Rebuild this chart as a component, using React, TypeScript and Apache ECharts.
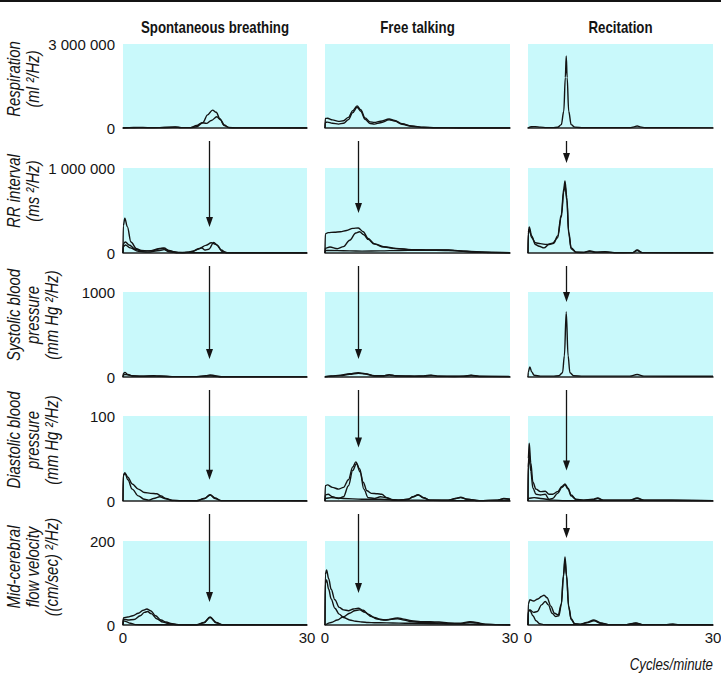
import React, { useEffect, useRef } from 'react';
import * as echarts from 'echarts';

const FONT = "'Liberation Sans', Arial, sans-serif";
const NARROW = 0.83; // horizontal squeeze to imitate the condensed face
const CYAN = '#c9f9fb';
const INK = '#141414';

const COLUMN_TITLES = ['Spontaneous breathing', 'Free talking', 'Recitation'];
const ROW_LABELS = [
  ['Respiration', '(ml \u00b2/Hz)'],
  ['RR interval', '(ms \u00b2/Hz)'],
  ['Systolic blood', 'pressure', '(mm Hg \u00b2/Hz)'],
  ['Diastolic blood', 'pressure', '(mm Hg \u00b2/Hz)'],
  ['Mid-cerebral', 'flow velocity', '((cm/sec) \u00b2/Hz)'],
];
const Y_MAX = [3000000, 1000000, 1000, 100, 200];
const X_MIN = 0;
const X_MAX = 30;
const X_AXIS_NAME = 'Cycles/minute';

// arrows: frequency per column, tip value per row (rows 2..5)
const ARROW_FREQ = [14.1, 5.3, 6.2];
const ARROW_TIPS = [
  [306000, 212, 25, 55],
  [470000, 212, 63, 76],
  [1060000, 882, 36, 207],
];

// ---------- Respiration ----------
const respSpontA = [[0,0],[0.05,8000],[1,12000],[2.5,20000],[4,12000],[6,15000],[7.5,25000],[8.5,35000],[9.5,15000],[11,12000],[12,45000],[13,190000],[13.8,470000],[14.6,640000],[15.2,560000],[15.8,330000],[16.5,90000],[17.3,15000],[18.5,3000],[30,2000]];
const respSpontB = [[0,0],[0.05,5000],[1,8000],[2.5,15000],[4,10000],[6,12000],[7.5,20000],[8.5,30000],[9.5,12000],[11,15000],[12,90000],[12.9,190000],[13.6,165000],[14.4,270000],[15.3,400000],[15.9,290000],[16.5,110000],[17.2,20000],[18.5,3000],[30,2000]];
const respTalkA = [[0,0],[0.05,340000],[0.4,350000],[1.2,290000],[2.2,235000],[3,260000],[3.8,380000],[4.5,620000],[5.2,790000],[5.8,650000],[6.5,360000],[7.3,220000],[8,200000],[9,240000],[10.4,320000],[11.3,270000],[12.5,150000],[14,70000],[16,25000],[18,8000],[22,2000],[30,1000]];
const respTalkB = [[0,0],[0.05,200000],[0.4,210000],[1.2,170000],[2.2,140000],[3,170000],[3.8,300000],[4.5,550000],[5.2,740000],[5.8,600000],[6.5,310000],[7.3,160000],[8,140000],[9,190000],[10.4,290000],[11.3,250000],[12.5,135000],[14,60000],[16,20000],[18,6000],[22,1500],[30,1000]];
const respRecite = [[0,0],[0.05,20000],[0.6,45000],[1.2,50000],[2,30000],[3,15000],[4,12000],[4.8,25000],[5.4,120000],[5.8,600000],[6.05,1800000],[6.2,2570000],[6.35,1800000],[6.6,600000],[7,120000],[7.6,30000],[9,10000],[16.5,8000],[17.2,40000],[17.7,70000],[18.2,40000],[19,8000],[30,3000]];

// ---------- RR interval ----------
const rrSpontA = [[0,0],[0.05,320000],[0.3,410000],[0.7,310000],[1.3,130000],[2.2,50000],[3,30000],[4,25000],[5,30000],[6,55000],[6.7,60000],[7.5,30000],[8.5,10000],[10,5000],[11.3,15000],[12.2,45000],[12.8,60000],[13.4,35000],[14,45000],[14.8,125000],[15.4,90000],[16.2,15000],[17,3000],[30,1000]];
const rrSpontB = [[0,0],[0.05,110000],[0.4,130000],[1,95000],[2,45000],[3,25000],[4.5,25000],[5.5,45000],[6.5,55000],[7.5,25000],[9,5000],[10.5,8000],[11.5,25000],[12.5,55000],[13.5,90000],[14.4,120000],[15.2,100000],[16,35000],[16.8,5000],[30,1000]];
const rrSpontC = [[0,0],[0.05,75000],[0.4,95000],[1.2,60000],[2.5,20000],[4,10000],[6,30000],[6.7,40000],[7.5,15000],[9,3000],[30,1000]];
const rrTalkA = [[0,0],[0.05,225000],[0.5,240000],[1.5,245000],[2.5,250000],[3.5,265000],[4.5,290000],[5.4,295000],[6.2,250000],[7,170000],[8,110000],[9.5,75000],[11.5,55000],[14,40000],[17,35000],[20,35000],[23,20000],[26,8000],[30,3000]];
const rrTalkB = [[0,0],[0.05,55000],[0.8,70000],[2,50000],[3,75000],[4,150000],[5,235000],[5.6,250000],[6.3,215000],[7,160000],[8,105000],[9.5,70000],[11.5,52000],[14,40000],[17,34000],[20,32000],[23,18000],[26,7000],[30,2000]];
const rrTalkC = [[0,0],[0.05,30000],[2,28000],[4,25000],[6,22000],[9,25000],[12,30000],[15,32000],[18,32000],[21,28000],[24,12000],[27,4000],[30,1500]];
const rrReciteA = [[0,0],[0.05,240000],[0.2,306000],[0.6,200000],[1.2,100000],[1.8,80000],[2.6,60000],[3.4,100000],[4.2,115000],[4.8,200000],[5.4,450000],[5.8,760000],[6.0,847000],[6.3,650000],[6.6,250000],[7,60000],[7.8,10000],[9,8000],[10,25000],[11,10000],[12.5,15000],[14,5000],[17,5000],[17.7,35000],[18.5,5000],[30,1000]];
const rrReciteB = [[0,0],[0.05,220000],[0.2,280000],[0.6,180000],[1.2,120000],[2,110000],[3,100000],[4,115000],[4.8,180000],[5.4,420000],[5.8,720000],[6.0,800000],[6.3,620000],[6.6,230000],[7,50000],[7.8,8000],[9,5000],[10,20000],[11,8000],[12.5,12000],[14,3000],[17,4000],[17.7,30000],[18.5,4000],[30,1000]];

// ---------- Systolic blood pressure ----------
const sbpSpontA = [[0,0],[0.05,40],[0.3,55],[0.8,30],[1.5,15],[3,10],[5,15],[6,12],[8,5],[12,5],[13.5,15],[14.2,25],[15,15],[16,3],[30,2]];
const sbpSpontB = [[0,0],[0.05,25],[0.5,30],[1.5,12],[3,8],[5,12],[6,8],[8,4],[12,4],[13.5,10],[14.2,15],[15,8],[16,2],[30,2]];
const sbpTalkA = [[0,5],[1,12],[2.5,20],[4,40],[5.4,52],[6.5,40],[8,15],[9.5,15],[10.4,28],[11.5,15],[13,12],[14.5,10],[16,12],[17.2,22],[18.5,10],[21,8],[22.5,10],[23.7,20],[25,8],[30,5]];
const sbpTalkB = [[0,3],[1,10],[2.5,16],[4,32],[5.4,45],[6.5,35],[8,12],[9.5,12],[10.4,22],[11.5,12],[13,10],[14.5,8],[16,10],[17.2,18],[18.5,8],[21,6],[22.5,8],[23.7,17],[25,6],[30,4]];
const sbpRecite = [[0,0],[0.05,60],[0.3,118],[0.6,60],[1,20],[2,10],[4,10],[5,15],[5.6,50],[5.9,250],[6.2,765],[6.5,250],[6.8,50],[7.4,15],[9,10],[16.5,10],[17.7,30],[18.8,10],[30,8]];

// ---------- Diastolic blood pressure ----------
const dbpSpontA = [[0,0],[0.05,30],[0.3,33],[0.8,28],[1.5,20],[2.5,14],[3.5,10],[4.5,9],[5.5,8.5],[6.2,6],[7,3],[8,1],[9.5,0.3],[12,0.3],[13.3,3],[14.2,7.5],[15,3.5],[16,0.5],[30,0.3]];
const dbpSpontB = [[0,0],[0.05,30],[0.3,33],[0.8,25],[1.5,14],[2.5,6],[3.5,2],[4.2,1],[5,3],[6,5],[7,2.5],[8,0.5],[12,0.3],[13.3,3],[14.2,7],[15,3],[16,0.5],[30,0.3]];
const dbpTalkA = [[0,0],[0.05,18],[0.4,19],[1.2,16],[2.2,14],[3,16],[3.8,25],[4.5,40],[5.0,46],[5.6,38],[6.2,22],[6.8,12],[7.5,9],[8.5,8.5],[9.2,8],[10,4],[11,1.5],[12,1],[13.5,2],[14.3,5],[15.1,7.5],[16,4],[17,1],[20,1],[21.2,3],[22,4.5],[23,2],[25,0.5],[28,1],[29,3],[30,2]];
const dbpTalkB = [[0,0],[0.05,7],[0.5,8],[1.2,5],[2.2,3],[3,5],[3.8,18],[4.5,36],[5.1,44],[5.7,34],[6.3,14],[7,4],[8,3],[9,5],[9.8,4],[11,1],[12,1],[13.5,2],[14.3,5],[15.1,7],[16,3.5],[17,1],[20,1],[21.2,3],[22,4],[23,2],[25,0.5],[28,1],[29,2.5],[30,2]];
const dbpTalkC = [[0,0],[0.05,3],[1,4],[3,3],[6,2],[9,2],[12,1],[15,1],[20,0.5],[30,0.3]];
const dbpReciteA = [[0,0],[0.05,50],[0.2,68],[0.45,45],[0.8,22],[1.3,14],[2,11],[2.8,11.5],[3.4,8],[4,8],[4.8,11],[5.5,17],[6.0,20],[6.5,15],[7,7],[7.8,2],[9,1],[10.5,2],[11.3,3.5],[12.2,1],[16.5,1],[17.7,3.5],[18.8,1],[30,0.5]];
const dbpReciteB = [[0,0],[0.05,40],[0.2,55],[0.45,35],[0.8,15],[1.3,8],[2,7],[2.8,8],[3.4,2],[4,3],[4.8,9],[5.5,16],[6.0,19],[6.5,14],[7,6],[7.8,1.5],[9,1],[10.5,1.5],[11.3,3],[12.2,1],[16.5,1],[17.7,3],[18.8,1],[30,0.5]];
const dbpReciteC = [[0,0],[0.05,3],[1,4],[2,3],[4,1],[6,0.5],[30,0.3]];

// ---------- Mid-cerebral flow velocity ----------
const mcaSpontA = [[0,0],[0.05,17],[0.8,19],[1.6,22],[2.5,28],[3.3,35],[3.9,38],[4.5,34],[5.3,22],[6.2,12],[7,7],[8,3],[9,1],[12,0.5],[13.2,6],[14.2,19],[15.2,6],[16.2,0.5],[30,0.3]];
const mcaSpontB = [[0,0],[0.05,14],[0.8,12],[1.8,13],[2.8,22],[3.5,30],[4,32],[4.6,27],[5.5,15],[6.5,7],[7.5,3],[9,0.5],[12,0.5],[13.2,5],[14.2,18],[15.2,5],[16.2,0.5],[30,0.3]];
const mcaSpontC = [[0,0],[0.05,10],[0.5,8],[1.2,4],[2,1],[4,0.5],[30,0.3]];
const mcaTalkA = [[0,0],[0.05,120],[0.25,131],[0.6,110],[1,85],[1.6,60],[2.3,42],[3,36],[3.8,34],[4.6,38],[5.4,40],[6.2,35],[7,26],[8,18],[9,13],[10,12],[11,15],[11.8,17],[12.8,14],[14,10],[15.5,8],[17,8],[18.5,7],[20,5],[22,4],[23.5,8],[24.5,6],[26,2],[28,1],[30,0.5]];
const mcaTalkB = [[0,0],[0.05,100],[0.25,107],[0.6,85],[1,62],[1.6,40],[2.3,26],[3,18],[4,12],[5,9],[6,7],[7,6],[8,5.5],[10,5],[12,4.5],[14,4],[18,3],[22,2],[26,1],[30,0.5]];
const mcaTalkC = [[0,0],[1,6],[2,12],[3,20],[4,28],[4.8,34],[5.6,36],[6.5,30],[7.5,20],[8.5,14],[9.5,12],[10.5,13],[11.8,15],[12.8,12],[14,8],[15.5,6],[17,6],[18.5,5],[20,3.5],[22,3],[23.5,6],[24.5,4.5],[26,1.5],[30,0.3]];
const mcaReciteA = [[0,0],[0.05,50],[0.3,60],[0.9,57],[1.6,62],[2.2,68],[2.6,71],[3.1,65],[3.7,45],[4.3,28],[4.9,24],[5.4,50],[5.75,120],[6.0,162],[6.25,120],[6.6,45],[7,15],[7.6,3],[8.5,2],[9.5,6],[10.7,12],[11.8,5],[13,1],[16,1],[17.5,5],[18.5,1],[22.5,1],[23.5,2.5],[24.5,0.5],[30,0.3]];
const mcaReciteB = [[0,0],[0.05,32],[0.3,36],[0.9,30],[1.5,32],[2.2,48],[2.8,56],[3.3,48],[3.9,28],[4.5,20],[5,22],[5.4,48],[5.75,115],[6.0,155],[6.25,115],[6.6,42],[7,13],[7.6,2],[8.5,1.5],[9.5,5],[10.7,10],[11.8,4],[13,1],[16,1],[17.5,4],[18.5,1],[30,0.3]];
const mcaReciteC = [[0,0],[0.05,32],[0.3,35],[0.8,22],[1.3,10],[1.9,3],[2.5,1],[4,0.5],[30,0.3]];

const PANELS = [
  [[respSpontA, respSpontB], [respTalkA, respTalkB], [respRecite]],
  [[rrSpontA, rrSpontB, rrSpontC], [rrTalkA, rrTalkB, rrTalkC], [rrReciteA, rrReciteB]],
  [[sbpSpontA, sbpSpontB], [sbpTalkA, sbpTalkB], [sbpRecite]],
  [[dbpSpontA, dbpSpontB], [dbpTalkA, dbpTalkB, dbpTalkC], [dbpReciteA, dbpReciteB, dbpReciteC]],
  [[mcaSpontA, mcaSpontB, mcaSpontC], [mcaTalkA, mcaTalkB, mcaTalkC], [mcaReciteA, mcaReciteB, mcaReciteC]],
];

// layout (pixels)
const GRID_LEFT = [123, 325, 528];
const GRID_W = [184, 185, 185];
const GRID_TOP = [44, 168, 292, 416, 541];
const GRID_H = [84, 85, 85, 85, 84];
const LABEL_CENTER = [79, 191, 315, 440, 567];
const LABEL_X = [14, 33, 52];

const fmtY = (v: number) =>
  v >= 10000 ? String(v).replace(/\B(?=(\d{3})+(?!\d))/g, ' ') : String(v);

export default function App() {
  const ref = useRef<HTMLDivElement>(null);
  useEffect(() => {
    if (!ref.current) return;
    const chart = echarts.init(ref.current, undefined, { renderer: 'svg' });
    const grids: any[] = [];
    const xAxes: any[] = [];
    const yAxes: any[] = [];
    const series: any[] = [];
    PANELS.forEach((row, r) => {
      row.forEach((curves, c) => {
        const p = r * 3 + c;
        grids.push({
          left: GRID_LEFT[c], top: GRID_TOP[r], width: GRID_W[c], height: GRID_H[r],
          show: true, backgroundColor: CYAN, borderWidth: 0, containLabel: false, outerBoundsMode: 'none',
        });
        xAxes.push({
          type: 'value', gridIndex: p, min: X_MIN, max: X_MAX, interval: X_MAX - X_MIN,
          axisLine: { show: true, onZero: false, lineStyle: { color: '#222', width: 1.5 } },
          axisTick: { show: false }, splitLine: { show: false },
          axisLabel: { show: r === 4, color: INK, fontSize: 15, fontFamily: FONT, margin: 5 },
        });
        yAxes.push({
          type: 'value', gridIndex: p, min: 0, max: Y_MAX[r], interval: Y_MAX[r],
          axisLine: { show: false }, axisTick: { show: false }, splitLine: { show: false },
          axisLabel: { show: c === 0, color: INK, fontSize: 15, fontFamily: FONT, margin: 8, formatter: fmtY },
        });
        curves.forEach((d) => {
          series.push({
            type: 'line', xAxisIndex: p, yAxisIndex: p, data: d,
            showSymbol: false, symbol: 'none', smooth: 0.35, smoothMonotone: 'x',
            lineStyle: { color: INK, width: 1.4 }, silent: true, z: 3,
          });
        });
      });
    });
    chart.setOption({
      animation: false,
      backgroundColor: '#fff',
      grid: grids, xAxis: xAxes, yAxis: yAxes, series,
    });

    const g: any[] = [];
    g.push({ type: 'rect', shape: { x: 0, y: 0, width: 721, height: 2 }, style: { fill: INK } });
    COLUMN_TITLES.forEach((t, c) => {
      g.push({
        type: 'text', x: GRID_LEFT[c] + GRID_W[c] / 2, y: 28, scaleX: NARROW,
        style: { text: t, fill: INK, fontSize: 16, fontWeight: 'bold', fontFamily: FONT,
          align: 'center', textAlign: 'center', verticalAlign: 'middle', textVerticalAlign: 'middle' },
      });
    });
    ROW_LABELS.forEach((lines, r) => {
      lines.forEach((t, i) => {
        g.push({
          type: 'text', x: LABEL_X[i], y: LABEL_CENTER[r], rotation: Math.PI / 2, scaleX: NARROW,
          style: { text: t, fill: INK, fontSize: 18, fontStyle: 'italic', fontFamily: FONT,
            align: 'center', textAlign: 'center', verticalAlign: 'middle', textVerticalAlign: 'middle' },
        });
      });
    });
    g.push({
      type: 'text', x: 713, y: 665, scaleX: NARROW,
      style: { text: X_AXIS_NAME, fill: INK, fontSize: 16, fontStyle: 'italic', fontFamily: FONT,
        align: 'right', textAlign: 'right', verticalAlign: 'middle', textVerticalAlign: 'middle' },
    });
    for (let c = 0; c < 3; c++) {
      for (let r = 1; r < 5; r++) {
        const p = r * 3 + c;
        const prev = (r - 1) * 3 + c;
        const yStart = (chart.convertToPixel({ gridIndex: prev } as any, [0, 0]) as number[])[1] + 13;
        const tip = chart.convertToPixel({ gridIndex: p } as any, [ARROW_FREQ[c], ARROW_TIPS[c][r - 1]]) as number[];
        const x = Math.round(tip[0]) + 0.5;
        const yt = tip[1];
        g.push({ type: 'line', shape: { x1: x, y1: yStart, x2: x, y2: yt - 8 }, style: { stroke: INK, lineWidth: 1.3 }, z: 10 });
        g.push({ type: 'polygon', shape: { points: [[x - 3.5, yt - 10], [x + 3.5, yt - 10], [x, yt]] }, style: { fill: INK }, z: 10 });
      }
    }
    chart.setOption({ graphic: g });
    return () => chart.dispose();
  }, []);
  return <div ref={ref} style={{ position: 'absolute', left: 0, top: 0, width: 721, height: 677 }} />;
}
